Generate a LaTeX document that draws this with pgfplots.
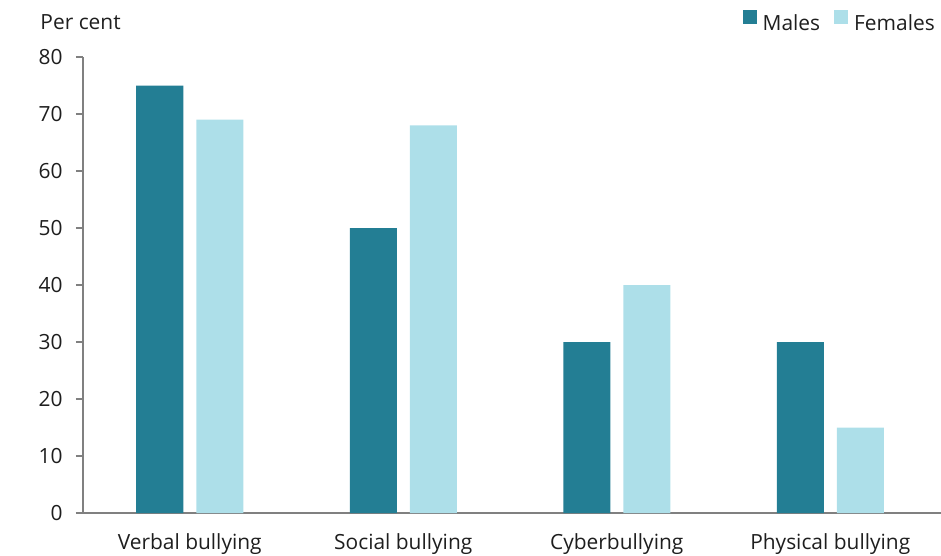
\documentclass[border=0pt]{standalone}
\usepackage{pgfplots}
\pgfplotsset{compat=1.18}
\usepackage{fontspec}
\setmainfont{Open Sans}
\definecolor{males}{HTML}{237E94}
\definecolor{females}{HTML}{ADDFE9}
\definecolor{axgray}{HTML}{808080}
\definecolor{txt}{HTML}{1E1E1E}
\begin{document}
\begin{tikzpicture}
\begin{axis}[
  name=ax,
  scale only axis,
  width=854bp, height=456bp,
  xmin=-0.5, xmax=3.5,
  ymin=0, ymax=80,
  ytick={0,10,...,80},
  xtick={0,1,2,3},
  xticklabels={Verbal bullying,Social bullying,Cyberbullying,Physical bullying},
  major x tick style={draw=none},
  axis x line*=bottom,
  axis y line*=left,
  axis line style={axgray, line width=1.5bp},
  y axis line style={-},
  x axis line style={-, shorten <=-7bp, shorten >=-5bp},
  ytick style={axgray, line width=1.5bp},
  tick align=outside,
  major tick length=7bp,
  tick label style={font=\fontsize{21}{24}\selectfont, text=txt},
  /pgf/number format/assume math mode=true,
  yticklabel style={xshift=-10bp},
  xticklabel style={yshift=-10bp},
  ybar, bar width=47bp,
  legend style={at={(1.0,1.077)}, anchor=east, draw=none, fill=none, inner sep=0pt,
    legend columns=2, font=\fontsize{21}{24}\selectfont, text=txt,
    /tikz/every even column/.append style={column sep=12bp},
    /tikz/every odd column/.append style={column sep=4bp}},
  legend image code/.code={\fill[#1] (0bp,-1bp) rectangle (14bp,13bp);},
  clip=false,
]
\addplot[fill=males, draw=none, bar shift=-30bp] coordinates {(0,75) (1,50) (2,30) (3,30)};
\addplot[fill=females, draw=none, bar shift=30bp] coordinates {(0,69) (1,68) (2,40) (3,15)};
\legend{Males,Females}
\node[anchor=west, font=\fontsize{21}{24}\selectfont, text=txt, inner sep=0pt] at (axis description cs:-0.05,1.077) {Per cent};
\end{axis}
\pgfresetboundingbox
\path[use as bounding box] ([xshift=-83bp,yshift=-43bp]ax.south west) rectangle ([xshift=858bp,yshift=513bp]ax.south west);
\end{tikzpicture}
\end{document}
